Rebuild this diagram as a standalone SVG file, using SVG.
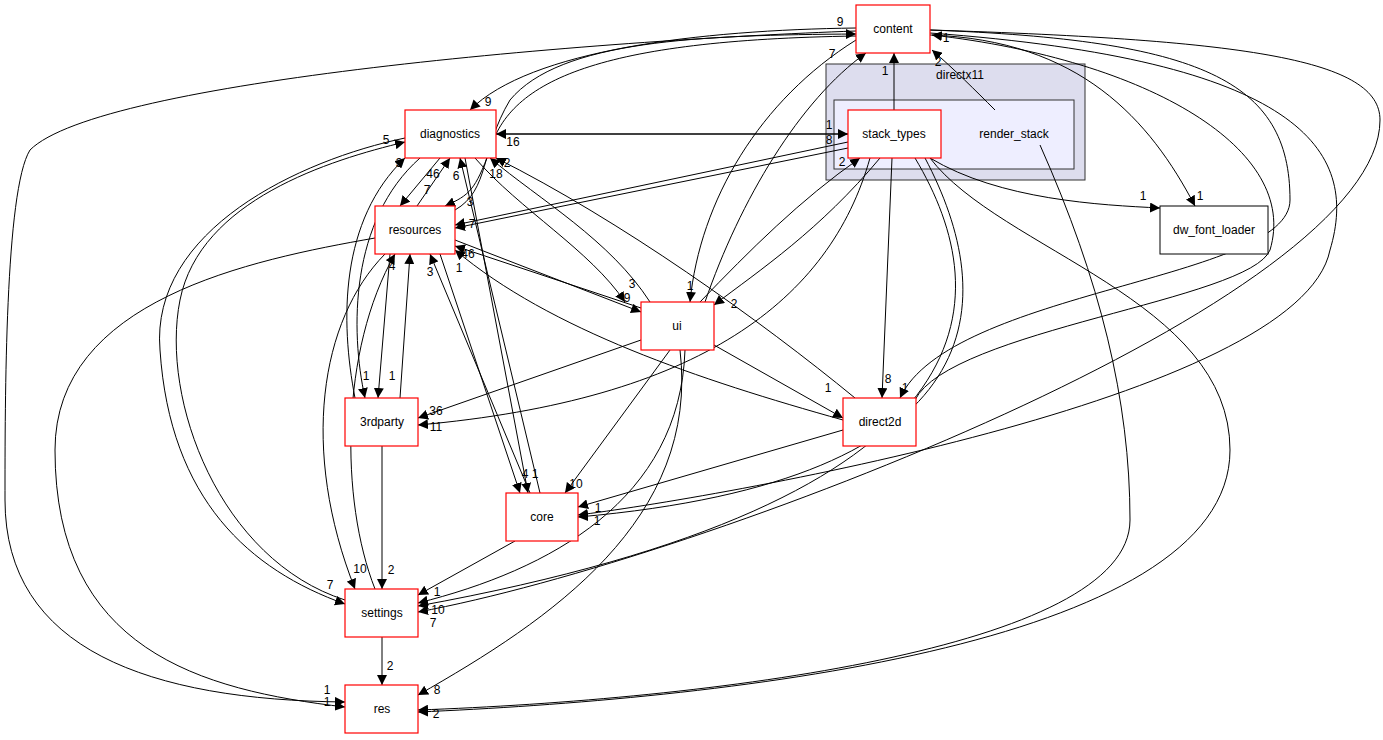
<svg xmlns="http://www.w3.org/2000/svg" width="1383" height="740" viewBox="0 0 1383 740">
<style>
.n rect{fill:#fff;stroke:#f00;stroke-width:1.2}
text{font-family:"Liberation Sans",Arial,sans-serif;font-size:12px;fill:#000}
.t{text-anchor:middle}
#edges path{fill:none;stroke:#000;stroke-width:1}
</style>
<defs>
<marker id="a" viewBox="0 0 10 10" refX="10" refY="5" markerWidth="10" markerHeight="10" markerUnits="userSpaceOnUse" orient="auto"><path d="M0,0L10,5L0,10z" fill="#000"/></marker>
<marker id="s" viewBox="0 0 10 10" refX="0" refY="5" markerWidth="10" markerHeight="10" markerUnits="userSpaceOnUse" orient="auto"><path d="M10,0L0,5L10,10z" fill="#000"/></marker>
</defs>
<rect width="1383" height="740" fill="#fff"/>
<g id="directx11"><rect x="826" y="64" width="259" height="116" fill="#ddddee" stroke="#333"/><text x="960" y="79" class="t">directx11</text></g>
<g id="render_stack"><rect x="834" y="100" width="240" height="69" fill="#eeeeff" stroke="#333"/><text x="1014" y="138" class="t">render_stack</text></g>
<g id="edges" marker-end="url(#a)">
<path d="M894,110V53"/>
<path d="M995,110C975,90 955,70 932,50"/>
<path d="M496,134H848" marker-start="url(#s)" style="stroke-width:1.6"/>
<path d="M856,31C600,40 100,80 30,150C5,190 5,400 5,500C5,650 150,700 345,702"/>
<path d="M375,238C250,260 55,300 55,450C55,650 200,690 345,707"/>
<path d="M856,28C700,30 530,50 470,110"/>
<path d="M856,36C600,40 510,80 490,150C475,190 470,195 445,206"/>
<path d="M455,210C490,190 480,150 510,100C560,40 700,35 856,34"/>
<path d="M848,142L455,225"/>
<path d="M848,148L455,228"/>
<path d="M475,158C520,210 590,250 625,302"/>
<path d="M650,302C610,240 540,200 490,158"/>
<path d="M455,240L641,312"/>
<path d="M641,308L455,246"/>
<path d="M705,302C740,200 800,100 866,53"/>
<path d="M856,40C760,100 700,200 690,302"/>
<path d="M880,158C820,230 760,270 714,305"/>
<path d="M700,302C750,250 800,200 860,158"/>
<path d="M930,158C1000,200 1100,205 1160,208"/>
<path d="M930,35C1080,40 1150,120 1195,206"/>
<path d="M870,158C830,300 700,400 418,425"/>
<path d="M641,340L418,418"/>
<path d="M892,158L882,398"/>
<path d="M855,398C760,320 620,220 496,158"/>
<path d="M843,420C700,380 550,330 455,250"/>
<path d="M714,345L843,418"/>
<path d="M930,30C1200,40 1290,80 1290,200C1290,280 950,290 900,398"/>
<path d="M915,400C950,330 1250,300 1270,250C1300,150 1150,60 932,35"/>
<path d="M930,33C1300,60 1360,150 1330,250C1300,400 700,500 578,515"/>
<path d="M925,158C1000,300 1000,480 578,517"/>
<path d="M930,30C1250,40 1380,60 1380,120C1380,300 700,560 418,612"/>
<path d="M915,158C1000,300 1000,500 418,606"/>
<path d="M930,158C1000,250 1230,300 1230,450C1230,650 700,700 418,712"/>
<path d="M1040,145C1100,280 1130,400 1130,520C1130,650 700,700 418,710"/>
<path d="M670,350L565,493"/>
<path d="M685,350C680,500 550,570 418,603"/>
<path d="M680,350C700,520 550,620 418,695"/>
<path d="M843,430L578,507"/>
<path d="M515,541L418,595"/>
<path d="M540,493L460,158"/>
<path d="M530,493L430,254"/>
<path d="M440,254L520,493"/>
<path d="M465,158L528,493"/>
<path d="M417,206L450,158"/>
<path d="M440,158L400,206"/>
<path d="M400,398L410,254"/>
<path d="M390,254L378,398"/>
<path d="M420,158C350,220 350,330 365,398"/>
<path d="M355,398C340,320 340,220 405,158"/>
<path d="M382,446V589"/>
<path d="M345,600C220,560 160,400 180,300C200,200 330,160 405,142"/>
<path d="M405,138C300,160 150,230 160,350C170,500 250,570 345,604"/>
<path d="M375,589C340,500 340,350 395,254"/>
<path d="M385,254C320,320 300,450 355,589"/>
<path d="M382,637V685"/>
</g>
<g id="labels">
<text x="885" y="75" class="t">1</text><text x="938" y="66" class="t">2</text><text x="946" y="42" class="t">1</text>
<text x="513" y="146" class="t">16</text><text x="829" y="129" class="t">1</text><text x="829" y="144" class="t">8</text>
<text x="327" y="694" class="t">1</text><text x="327" y="706" class="t">1</text>
<text x="488" y="106" class="t">9</text><text x="840" y="26" class="t">9</text><text x="470" y="206" class="t">3</text>
<text x="472" y="228" class="t">7</text><text x="496" y="178" class="t">18</text><text x="507" y="167" class="t">2</text>
<text x="632" y="288" class="t">3</text><text x="627" y="302" class="t">9</text><text x="468" y="258" class="t">46</text>
<text x="832" y="58" class="t">7</text><text x="690" y="290" class="t">1</text><text x="734" y="308" class="t">2</text>
<text x="842" y="166" class="t">2</text><text x="1143" y="200" class="t">1</text><text x="1200" y="200" class="t">1</text>
<text x="436" y="415" class="t">36</text><text x="436" y="431" class="t">11</text>
<text x="888" y="383" class="t">8</text><text x="828" y="392" class="t">1</text><text x="905" y="392" class="t">1</text>
<text x="459" y="272" class="t">1</text><text x="598" y="512" class="t">1</text><text x="597" y="525" class="t">1</text>
<text x="576" y="488" class="t">10</text><text x="437" y="596" class="t">1</text><text x="438" y="614" class="t">10</text><text x="433" y="627" class="t">7</text>
<text x="437" y="694" class="t">8</text><text x="436" y="718" class="t">2</text>
<text x="525" y="478" class="t">4</text><text x="535" y="478" class="t">1</text><text x="430" y="276" class="t">3</text><text x="456" y="180" class="t">6</text>
<text x="427" y="194" class="t">7</text><text x="433" y="178" class="t">46</text>
<text x="366" y="380" class="t">1</text><text x="392" y="380" class="t">1</text><text x="392" y="270" class="t">4</text>
<text x="399" y="167" class="t">3</text><text x="386" y="144" class="t">5</text><text x="330" y="589" class="t">7</text>
<text x="360" y="573" class="t">10</text><text x="391" y="574" class="t">2</text><text x="390" y="670" class="t">2</text>
</g>
<g id="content" class="n"><rect x="856" y="5" width="74" height="48"/><text x="893" y="33" class="t">content</text></g>
<g id="stack_types" class="n"><rect x="848" y="110" width="93" height="48"/><text x="894" y="138" class="t">stack_types</text></g>
<g id="diagnostics" class="n"><rect x="405" y="110" width="91" height="48"/><text x="450" y="138" class="t">diagnostics</text></g>
<g id="resources" class="n"><rect x="375" y="206" width="80" height="48"/><text x="415" y="234" class="t">resources</text></g>
<g id="ui" class="n"><rect x="641" y="302" width="73" height="48"/><text x="677" y="330" class="t">ui</text></g>
<g id="3rdparty" class="n"><rect x="345" y="398" width="73" height="48"/><text x="382" y="426" class="t">3rdparty</text></g>
<g id="direct2d" class="n"><rect x="843" y="398" width="73" height="48"/><text x="880" y="426" class="t">direct2d</text></g>
<g id="core" class="n"><rect x="506" y="493" width="72" height="48"/><text x="542" y="521" class="t">core</text></g>
<g id="settings" class="n"><rect x="345" y="589" width="73" height="48"/><text x="382" y="617" class="t">settings</text></g>
<g id="res" class="n"><rect x="345" y="685" width="73" height="48"/><text x="382" y="713" class="t">res</text></g>
<g id="dw_font_loader"><rect x="1160" y="206" width="108" height="48" fill="#fff" stroke="#000"/><text x="1214" y="234" class="t">dw_font_loader</text></g>
</svg>
